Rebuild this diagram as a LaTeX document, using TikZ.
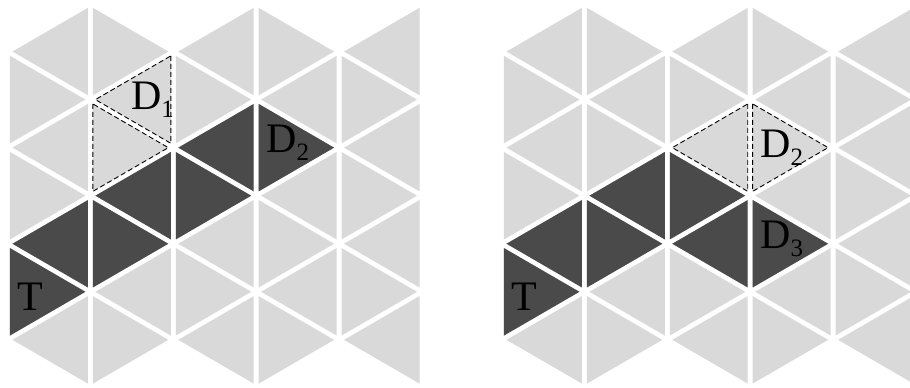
\documentclass[tikz,border=0pt]{standalone}
\usepackage{fontspec}
\setmainfont{Liberation Serif}
\usetikzlibrary{calc}
\definecolor{lightgr}{gray}{0.85}
\definecolor{darkgr}{gray}{0.29}
\newcommand{\shr}{0.91}
\newcommand{\lowidx}[1]{\raisebox{-0.2em}{\fontsize{25}{25}\selectfont #1}}
% one triangle: base column #1, apex column #2, row #3, style #4
\newcommand{\tri}[4]{%
  \path[#4] ({(2*#1+#2)/3+\shr*(#1-#2)/3},{#3-\shr})
    -- ({(2*#1+#2)/3+\shr*(#1-#2)/3},{#3+\shr})
    -- ({(2*#1+#2)/3+2*\shr*(#2-#1)/3},{#3}) -- cycle;}
\tikzset{
  lite/.style={fill=lightgr},
  darktri/.style={fill=darkgr},
  ghost/.style={fill=lightgr, draw=black, line width=0.9pt, dash pattern=on 5pt off 3pt},
  lbl/.style={font=\fontsize{42}{46}\selectfont, inner sep=0pt, anchor=center},
  grid/.style={x=82.9pt, y=-48.05pt}
}
\begin{document}
\begin{tikzpicture}
 \useasboundingbox (0,0) rectangle (910pt,-388pt);
 \clip (0,0) rectangle (910pt,-388pt);
 % left panel
 \begin{scope}[shift={(7.5pt,-3.5pt)}, grid]
  \foreach \i in {0,...,4}
   \foreach \j in {1,...,7} {
    \pgfmathtruncatemacro\a{\i+mod(\i+\j,2)}
    \pgfmathtruncatemacro\b{2*\i+1-\a}
    \tri{\a}{\b}{\j}{lite}
   }
  \tri{0}{1}{6}{darktri} \tri{1}{0}{5}{darktri} \tri{1}{2}{5}{darktri}
  \tri{2}{1}{4}{darktri} \tri{2}{3}{4}{darktri}
  \tri{3}{2}{3}{darktri} \tri{3}{4}{3}{darktri}
  \tri{2}{1}{2}{ghost} \tri{1}{2}{3}{ghost}
  \node[lbl] (ta) at (0.28,6.1) {T};
  \node[lbl] (da) at (1.75,2.0) {D\lowidx{1}};
  \node[lbl] (db) at (3.38,2.9) {D\lowidx{2}};
 \end{scope}
 % right panel
 \begin{scope}[shift={(501.5pt,-3.5pt)}, grid]
  \foreach \i in {0,...,4}
   \foreach \j in {1,...,7} {
    \pgfmathtruncatemacro\a{\i+mod(\i+\j,2)}
    \pgfmathtruncatemacro\b{2*\i+1-\a}
    \tri{\a}{\b}{\j}{lite}
   }
  \tri{0}{1}{6}{darktri} \tri{1}{0}{5}{darktri} \tri{1}{2}{5}{darktri}
  \tri{2}{1}{4}{darktri} \tri{2}{3}{4}{darktri}
  \tri{3}{2}{5}{darktri} \tri{3}{4}{5}{darktri}
  \tri{3}{2}{3}{ghost} \tri{3}{4}{3}{ghost}
  \node[lbl] (tb) at (0.28,6.1) {T};
  \node[lbl] (dc) at (3.38,3.0) {D\lowidx{2}};
  \node[lbl] (dd) at (3.38,4.9) {D\lowidx{3}};
 \end{scope}
\end{tikzpicture}
\end{document}
